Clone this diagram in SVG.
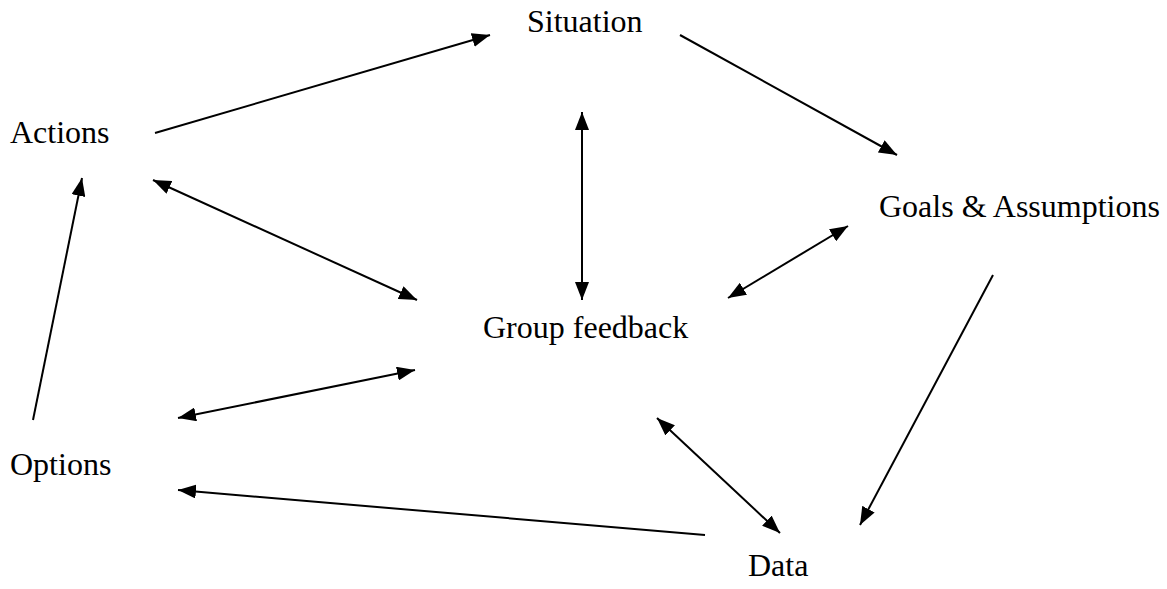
<svg xmlns="http://www.w3.org/2000/svg" width="1167" height="589" viewBox="0 0 1167 589">
<defs>
<marker id="ah" markerUnits="userSpaceOnUse" markerWidth="18" markerHeight="14" viewBox="0 0 18 14" refX="18" refY="7" orient="auto-start-reverse">
<path d="M0,0 L18,7 L0,14 Z" fill="#000"/>
</marker>
</defs>
<style>
text { font-family: "Liberation Serif", "Times New Roman", serif; font-size: 32px; fill: #000; }
.c line { stroke: #000; stroke-width: 2; fill: none; }
.one { marker-end: url(#ah); }
.two { marker-start: url(#ah); marker-end: url(#ah); }
</style>
<rect width="1167" height="589" fill="#fff"/>
<g id="situation"><text x="527" y="32">Situation</text></g>
<g id="actions"><text x="10" y="143">Actions</text></g>
<g id="goals"><text x="879" y="217">Goals &amp; Assumptions</text></g>
<g id="group"><text x="483" y="338">Group feedback</text></g>
<g id="options"><text x="10" y="475">Options</text></g>
<g id="data"><text x="748" y="576">Data</text></g>
<g class="c" id="connectors">
<line class="one" x1="155" y1="133" x2="490" y2="35"/>
<line class="one" x1="680" y1="35" x2="897" y2="155"/>
<line class="two" x1="582" y1="112" x2="582" y2="300"/>
<line class="two" x1="153" y1="180" x2="417" y2="300"/>
<line class="two" x1="848" y1="226" x2="728" y2="298"/>
<line class="one" x1="33" y1="420" x2="82" y2="178"/>
<line class="two" x1="415" y1="370" x2="178" y2="418"/>
<line class="one" x1="993" y1="275" x2="860" y2="525"/>
<line class="two" x1="657" y1="418" x2="780" y2="533"/>
<line class="one" x1="705" y1="535" x2="178" y2="490"/>
</g>
</svg>
